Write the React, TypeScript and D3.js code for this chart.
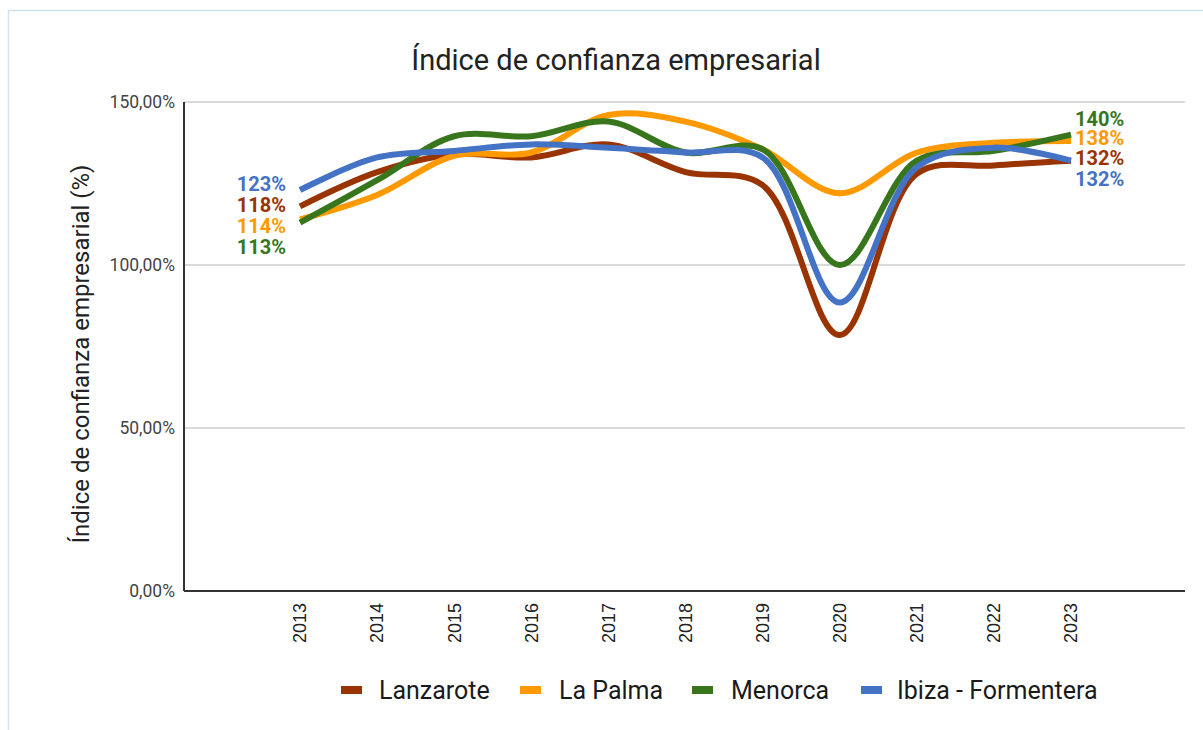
import React from "react";
import * as d3 from "d3";

const years = [2013, 2014, 2015, 2016, 2017, 2018, 2019, 2020, 2021, 2022, 2023];
const lanzarote = [118, 128.5, 134, 133, 137, 128.5, 124.5, 78.5, 128, 130.5, 132];
const laPalma = [114, 121.5, 133.5, 134.5, 146, 144, 135.5, 122, 134.5, 137.5, 138];
const menorca = [113, 126, 139.5, 139.5, 144, 134.5, 135.5, 100, 132, 135, 140];
const ibiza = [123, 133, 135, 137, 136, 134.5, 133, 88.5, 130, 136, 132];
const yTicks = [0, 50, 100, 150];

const seriesNames = ["Lanzarote", "La Palma", "Menorca", "Ibiza - Formentera"];
const seriesColors = ["#993300", "#ff9900", "#38761d", "#4472c4"];
const seriesValues = [lanzarote, laPalma, menorca, ibiza];

const firstLabels = [
  { idx: 3, text: "123%" },
  { idx: 0, text: "118%" },
  { idx: 1, text: "114%" },
  { idx: 2, text: "113%" },
];
const lastLabels = [
  { idx: 2, text: "140%" },
  { idx: 1, text: "138%" },
  { idx: 0, text: "132%" },
  { idx: 3, text: "132%" },
];

export default function App() {
  const W = 1203, H = 730;
  const plotL = 184, plotR = 1185, plotT = 102, plotB = 591;
  const x = d3.scaleLinear().domain([2013, 2023]).range([300, 1071]);
  const y = d3.scaleLinear().domain([0, 150]).range([plotB, plotT]);
  const line = d3
    .line<number>()
    .x((_, i) => x(years[i]))
    .y((d) => y(d))
    .curve(d3.curveCatmullRom.alpha(0.5));
  const fmt = (v: number) => v.toFixed(2).replace(".", ",") + "%";

  const legendItems = [
    { sx: 341, tx: 379 },
    { sx: 520, tx: 559 },
    { sx: 692, tx: 731 },
    { sx: 861, tx: 897 },
  ];
  const firstBase = [191, 212, 233, 254];
  const lastBase = [126, 145, 165, 186];

  return (
    <svg width={W} height={H} style={{ position: "absolute", left: 0, top: 0 }}>
      <rect x={0} y={0} width={W} height={H} fill="#fff" />
      <rect x={8.5} y={10.5} width={1200} height={740} fill="#fff" stroke="#cfe2f3" strokeWidth={1.5} />
      <text x={616} y={70} textAnchor="middle" fontFamily="Roboto" fontSize={29} fill="#222">
        Índice de confianza empresarial
      </text>
      {yTicks.map((t) => (
        <g key={t}>
          {t > 0 && <line x1={plotL} x2={plotR} y1={y(t)} y2={y(t)} stroke="#cccccc" strokeWidth={1.5} />}
          <text x={175} y={y(t)} dy="0.35em" textAnchor="end" fontFamily="Roboto" fontSize={17.5} fill="#444">
            {fmt(t)}
          </text>
        </g>
      ))}
      <line x1={plotL} x2={plotL} y1={plotT} y2={plotB} stroke="#333" strokeWidth={2} />
      <line x1={plotL} x2={plotR} y1={plotB} y2={plotB} stroke="#333" strokeWidth={2} />
      {years.map((yr) => (
        <text
          key={yr}
          transform={`translate(${x(yr)},603) rotate(-90)`}
          textAnchor="end"
          dy="0.35em"
          fontFamily="Liberation Sans, Arial"
          fontSize={18}
          fill="#222"
        >
          {yr}
        </text>
      ))}
      <text
        transform={`translate(81,354) rotate(-90)`}
        textAnchor="middle"
        dy="0.35em"
        fontFamily="Roboto"
        fontSize={24}
        fill="#222"
      >
        Índice de confianza empresarial (%)
      </text>
      {seriesValues.map((vals, i) => (
        <path key={i} d={line(vals) || ""} fill="none" stroke={seriesColors[i]} strokeWidth={6} strokeLinejoin="round" />
      ))}
      {firstLabels.map((l, k) => (
        <text key={k} x={286} y={firstBase[k]} textAnchor="end" fontFamily="Roboto" fontWeight="bold" fontSize={20} fill={seriesColors[l.idx]}>
          {l.text}
        </text>
      ))}
      {lastLabels.map((l, k) => (
        <text key={k} x={1075} y={lastBase[k]} textAnchor="start" fontFamily="Roboto" fontWeight="bold" fontSize={20} fill={seriesColors[l.idx]}>
          {l.text}
        </text>
      ))}
      {seriesNames.map((n, i) => (
        <g key={n}>
          <rect x={legendItems[i].sx} y={686} width={21} height={8} fill={seriesColors[i]} />
          <text x={legendItems[i].tx} y={690} dy="0.35em" fontFamily="Roboto" fontSize={25} fill="#1a1a1a">
            {n}
          </text>
        </g>
      ))}
    </svg>
  );
}
